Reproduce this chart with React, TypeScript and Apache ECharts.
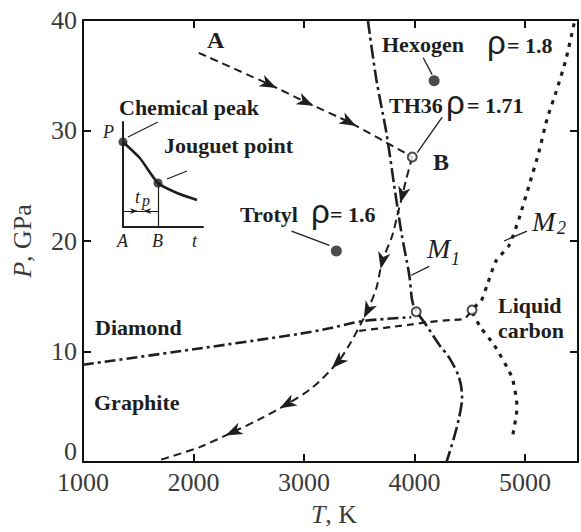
import React, { useEffect, useRef } from "react";
import * as echarts from "echarts";

// ---- axis ticks ----
const xTickLabels = [1000, 2000, 3000, 4000, 5000];
const yTickLabels = [0, 10, 20, 30, 40];

// ---- curves (T in K, P in GPa) ----
const pathAB = [[2047, 37.03], [2688, 34.16], [3023, 32.54], [3411, 30.74], [3980, 27.6]];
const pathB = [
  [3980, 27.6], [3926, 25.62], [3889, 24.09], [3844, 22.29], [3799, 20.49], [3709, 18.16],
  [3655, 15.73], [3573, 13.66], [3528, 12.76], [3411, 10.61], [3302, 8.99], [3077, 6.74],
  [2842, 5.21], [2598, 3.87], [2354, 2.7], [2056, 1.35], [1695, 0.18],
];
const diamondLine = [[1000, 8.8], [2000, 10.2], [2960, 11.6], [3230, 12.1], [3530, 12.75], [3970, 13.1]];
const graphiteLiquid = [[3500, 11.87], [3935, 12.4], [4133, 12.67], [4323, 12.85], [4449, 12.95], [4505, 13.5]];
const curveM1 = [
  [3578, 40], [3655, 34.61], [3745, 29.84], [3817, 24.99], [3880, 20.85], [3953, 16.9],
  [3980, 14.56], [4016, 13.66], [4106, 12.4], [4224, 10.61], [4314, 9.44], [4404, 7.64],
  [4431, 5.84], [4404, 4.04], [4359, 2.25], [4290, 0],
];
const curveM2 = [
  [5445, 39.7], [5370, 36.4], [5280, 33.44], [5199, 31.01], [5126, 28.04], [5036, 24.99],
  [4946, 22.02], [4856, 19.6], [4738, 18.2], [4657, 16.0], [4603, 14.56], [4521, 13.75],
  [4603, 12.13], [4720, 10.61], [4883, 7.64], [4928, 4.94], [4883, 2.07],
];
// arrowheads: [T, P, T toward, P toward]
const arrowMarks = [
  [2688, 34.16, 3023, 32.54], [3023, 32.54, 3411, 30.74], [3411, 30.74, 3980, 27.6],
  [3889, 24.09, 3844, 22.29], [3709, 18.16, 3655, 15.73], [3573, 13.66, 3528, 12.76],
  [3302, 8.99, 3077, 6.74], [2842, 5.21, 2598, 3.87], [2354, 2.7, 2056, 1.35],
];
const explosives = [[4178, 34.5], [3293, 19.1]]; // Hexogen, Trotyl
const openPoints = [[3980, 27.6], [4016, 13.6], [4521, 13.75]]; // B, M1, M2
const leaderLines = [
  [[4079, 36.58], [4160, 35.06]],
  [[4251, 31.2], [4025, 28.0]],
  [[2887, 20.9], [3230, 19.6]],
  [[3971, 16.9], [4133, 17.7]],
  [[4810, 20.0], [5018, 20.9]],
];

// ---- inset (schematic P(t)) ----
const insetCurve = [[0, 0.81], [0.21, 0.657], [0.4375, 0.419], [0.675, 0.324], [0.925, 0.257]];
const insetPoints = [[0, 0.81], [0.4375, 0.419]];
const insetGuides = [
  [[0.4375, 0.419], [0.4375, 0]],
  [[0, 0.152], [0.4375, 0.152]],
  [[0.0625, 0.857], [0.4375, 1.0]],
  [[0.55, 0.457], [0.8, 0.533]],
];
const insetArrows = [[0.14, 0.152, 0.3, 0.152], [0.3, 0.152, 0.1, 0.152]];

const INK = "#1e1e1e";
const SERIF = '"Liberation Serif", "Times New Roman", serif';

function arrowSeries(data: number[][], axis: number, scale: number) {
  return {
    type: "custom",
    xAxisIndex: axis,
    yAxisIndex: axis,
    data,
    z: 5,
    renderItem: (params: any, api: any) => {
      const p = api.coord([api.value(0), api.value(1)]);
      const q = api.coord([api.value(2), api.value(3)]);
      const a = Math.atan2(q[1] - p[1], q[0] - p[0]);
      const c = Math.cos(a);
      const s = Math.sin(a);
      const local = [[6, 0], [-7, -4.8], [-3.5, 0], [-7, 4.8]];
      const points = local.map(([x, y]) => [
        p[0] + (x * c - y * s) * scale,
        p[1] + (x * s + y * c) * scale,
      ]);
      return { type: "polygon", shape: { points }, style: { fill: INK } };
    },
  };
}

function lineSeries(data: number[][], type: any, width: number, smooth: number | boolean) {
  return {
    type: "line",
    xAxisIndex: 0,
    yAxisIndex: 0,
    data,
    symbol: "none",
    smooth,
    lineStyle: { color: INK, width, type, cap: "butt" },
    z: 3,
  };
}

function txt(text: string, x: number, y: number, font: string, fill = INK) {
  return {
    type: "text",
    x,
    y,
    z: 50,
    style: { text, font, fill, align: "left", verticalAlign: "middle" },
  };
}

const BOLD = `bold 22px ${SERIF}`;
const RHO = '33px "Liberation Sans", "DejaVu Sans", sans-serif';
const ITAL = (n: number) => `italic ${n}px ${SERIF}`;

const graphicTexts = [
  txt("Hexogen", 382, 44.5, BOLD),
  txt("ρ", 487, 42, RHO),
  txt("= 1.8", 507, 45, BOLD),
  txt("TH36", 389, 105.5, BOLD),
  txt("ρ", 446, 102, RHO),
  txt("= 1.71", 467, 105.5, BOLD),
  txt("Trotyl", 240, 214.5, BOLD),
  txt("ρ", 311, 211, RHO),
  txt("= 1.6", 330, 214.5, BOLD),
  txt("Chemical peak", 119, 107.5, BOLD),
  txt("Jouguet point", 164, 145, BOLD),
  txt("Diamond", 95, 327.5, BOLD),
  txt("Graphite", 94, 402.5, BOLD),
  txt("Liquid", 498, 305.5, BOLD),
  txt("carbon", 498, 330.5, BOLD),
  txt("A", 207, 40, `bold 24px ${SERIF}`),
  txt("B", 433, 162, `bold 24px ${SERIF}`),
  txt("M", 427, 248, ITAL(28)),
  txt("1", 451, 259, ITAL(18)),
  txt("M", 532, 221, ITAL(28)),
  txt("2", 557, 228, ITAL(18)),
  txt("P", 103, 132, ITAL(18)),
  txt("A", 117, 241, ITAL(18)),
  txt("B", 152, 241, ITAL(18)),
  txt("t", 192, 241, ITAL(18)),
  txt("t", 135, 197, ITAL(18)),
  txt("p", 142, 200, ITAL(16)),
];

const axisCommon = {
  axisLine: { onZero: false, lineStyle: { color: "#111", width: 2 } },
  axisTick: { inside: true, length: 8, lineStyle: { color: "#111", width: 2 } },
  splitLine: { show: false },
};

const labelStyle = { fontSize: 26, fontFamily: SERIF, color: "#3a3a3a" };

const option: any = {
  animation: false,
  backgroundColor: "#fff",
  grid: [
    { left: 83, top: 20, right: 3, bottom: 66 },
    { left: 123, top: 122, width: 80, height: 105 },
  ],
  xAxis: [
    {
      gridIndex: 0, type: "value", position: "bottom", min: 1000, max: 5480, interval: 1000,
      ...axisCommon,
      axisLabel: {
        ...labelStyle, margin: 7,
        formatter: (v: number) => (xTickLabels.includes(v) ? String(v) : ""),
      },
      name: "{i|T}, K", nameLocation: "middle", nameGap: 39,
      nameTextStyle: {
        ...labelStyle, padding: [0, 0, 0, 7],
        rich: { i: { ...labelStyle, fontStyle: "italic" } },
      },
    },
    {
      gridIndex: 0, type: "value", position: "top", min: 1000, max: 5480, interval: 1000,
      ...axisCommon, axisLabel: { show: false },
    },
    {
      gridIndex: 1, type: "value", min: 0, max: 1,
      axisLine: { onZero: false, lineStyle: { color: INK, width: 2 } },
      axisTick: { show: false }, axisLabel: { show: false }, splitLine: { show: false },
    },
  ],
  yAxis: [
    {
      gridIndex: 0, type: "value", position: "left", min: 0, max: 40, interval: 10,
      ...axisCommon,
      axisLabel: {
        ...labelStyle, margin: 6,
        formatter: (v: number) => (v === 0 ? "{z|0}" : yTickLabels.includes(v) ? String(v) : ""),
        rich: { z: { ...labelStyle, padding: [0, 0, 22, 0] } },
      },
      name: "{i|P}, GPa", nameLocation: "middle", nameGap: 48, nameRotate: 90,
      nameTextStyle: { ...labelStyle, rich: { i: { ...labelStyle, fontStyle: "italic" } } },
    },
    {
      gridIndex: 0, type: "value", position: "right", min: 0, max: 40, interval: 10,
      ...axisCommon, axisLabel: { show: false },
    },
    {
      gridIndex: 1, type: "value", min: 0, max: 1,
      axisLine: { onZero: false, lineStyle: { color: INK, width: 2 } },
      axisTick: { show: false }, axisLabel: { show: false }, splitLine: { show: false },
    },
  ],
  series: [
    lineSeries(pathAB, [8, 5], 2, 0.2),
    lineSeries(pathB, [8, 5], 2, 0.3),
    lineSeries(diamondLine, [11, 4, 3, 4], 2.6, 0.3),
    lineSeries(graphiteLiquid, [7, 5], 2.2, 0.2),
    lineSeries(curveM1, [14, 4, 3, 4], 2.6, 0.3),
    lineSeries(curveM2, [4, 6], 3.2, 0.2),
    arrowSeries(arrowMarks, 0, 1.3),
    {
      type: "lines", coordinateSystem: "cartesian2d", xAxisIndex: 0, yAxisIndex: 0,
      data: leaderLines.map((c) => ({ coords: c })),
      lineStyle: { color: INK, width: 1.3, opacity: 1 }, z: 4,
    },
    {
      type: "scatter", xAxisIndex: 0, yAxisIndex: 0, data: explosives,
      symbol: "circle", symbolSize: 11, itemStyle: { color: INK }, z: 6,
    },
    {
      type: "scatter", xAxisIndex: 0, yAxisIndex: 0, data: openPoints,
      symbol: "circle", symbolSize: 9,
      itemStyle: { color: "#fff", borderColor: INK, borderWidth: 2 }, z: 7,
    },
    {
      type: "line", xAxisIndex: 2, yAxisIndex: 2, data: insetCurve, symbol: "none",
      smooth: 0.2, lineStyle: { color: INK, width: 2.6 }, z: 3,
    },
    {
      type: "lines", coordinateSystem: "cartesian2d", xAxisIndex: 2, yAxisIndex: 2,
      data: insetGuides.map((c) => ({ coords: c })),
      lineStyle: { color: INK, width: 1.2, opacity: 1 }, z: 4,
    },
    {
      type: "scatter", xAxisIndex: 2, yAxisIndex: 2, data: insetPoints,
      symbol: "circle", symbolSize: 9, itemStyle: { color: INK }, z: 6,
    },
    arrowSeries(insetArrows, 2, 0.6),
  ],
  graphic: graphicTexts,
};

export default function App() {
  const ref = useRef<HTMLDivElement>(null);
  useEffect(() => {
    const chart = echarts.init(ref.current as HTMLDivElement, null, { renderer: "svg" });
    chart.setOption(option);
    return () => chart.dispose();
  }, []);
  return (
    <div
      ref={ref}
      style={{ position: "fixed", left: 0, top: 0, width: 581, height: 532, background: "#fff" }}
    />
  );
}
